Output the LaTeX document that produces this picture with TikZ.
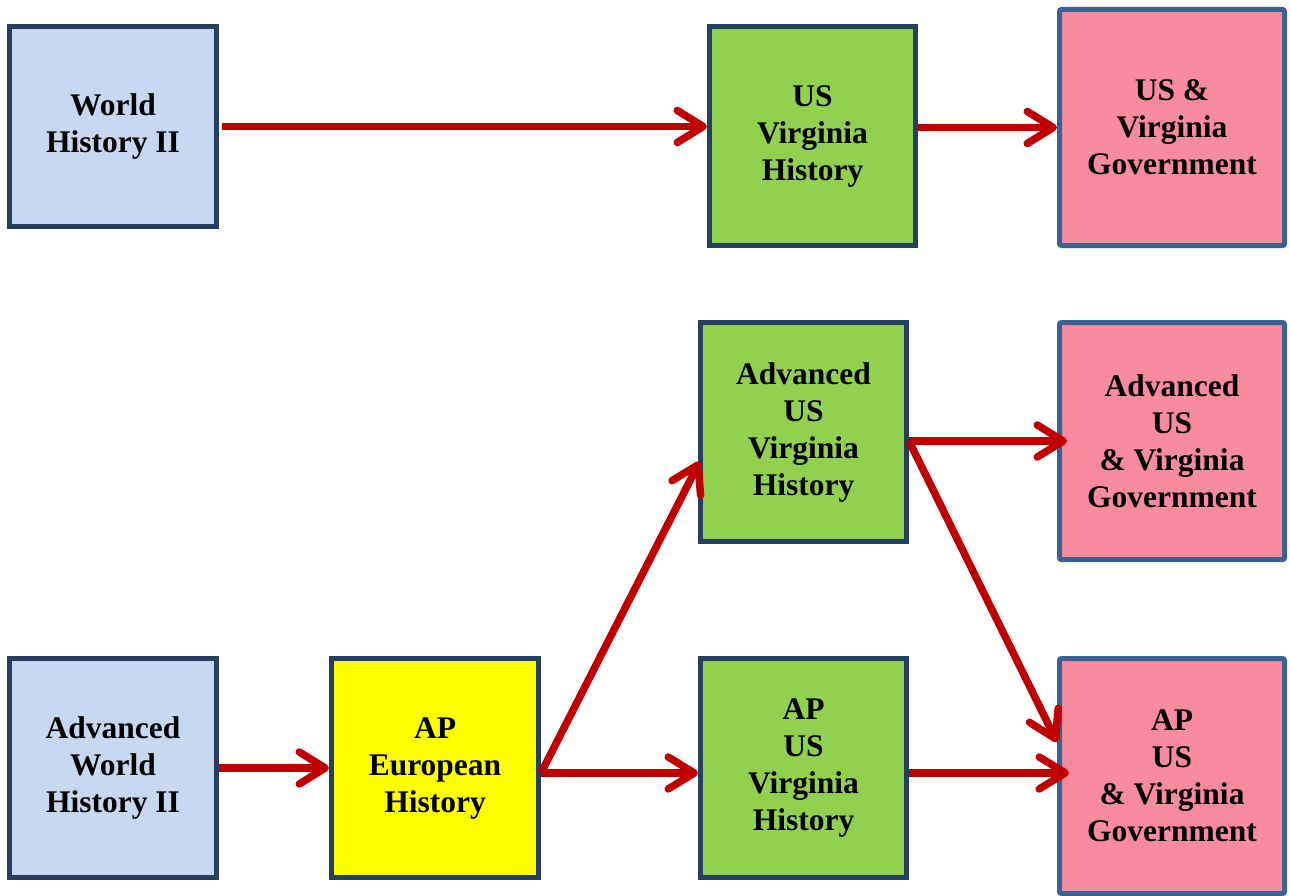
\documentclass[tikz,border=0pt]{standalone}
\usepackage{fontspec}
\setmainfont{Liberation Serif}
\usetikzlibrary{arrows.meta}
\definecolor{boxblue}{HTML}{C6D9F1}
\definecolor{boxgreen}{HTML}{92D050}
\definecolor{boxyellow}{HTML}{FFFF00}
\definecolor{boxpink}{HTML}{F98B9E}
\definecolor{navyline}{HTML}{243F60}
\definecolor{pinkline}{HTML}{3C6190}
\definecolor{arrowred}{HTML}{C00000}
\begin{document}
\begin{tikzpicture}[x=1pt,y=-1pt,->,>={Straight Barb[length=26pt,width=32pt,round]},line width=7.5pt,arrowred,
  course/.style={rectangle,draw=navyline,line width=5pt,align=center,text=black,inner sep=0pt,font=\fontsize{31.5}{37}\selectfont\bfseries,execute at begin node={\rule{0pt}{30pt}}},
  gov/.style={course,draw=pinkline,fill=boxpink,rounded corners=2pt,minimum width=225pt}]

      \useasboundingbox (0,0) rectangle (1290,896);

      % standard track
      \node[course,fill=boxblue,minimum width=207pt,minimum height=200pt] at (113,126.5) (wh) {World\\History II};
      \node[course,fill=boxgreen,minimum width=206pt,minimum height=219pt] at (812.5,136) (usvh) {US\\Virginia\\History};
      \node[gov,minimum height=236pt] at (1172,127.5) (usvg) {US \&\\Virginia\\Government};

      % advanced track
      \node[course,fill=boxblue,minimum width=207pt,minimum height=219pt] at (113,768) (awh) {Advanced\\World\\History II};
      \node[course,fill=boxyellow,minimum width=207pt,minimum height=219pt] at (435,768) (apeh) {AP\\European\\History};
      \node[course,fill=boxgreen,minimum width=206pt,minimum height=219pt] at (803.5,432) (ausvh) {Advanced\\US\\Virginia\\History};
      \node[course,fill=boxgreen,minimum width=206pt,minimum height=219pt] at (803.5,768) (apusvh) {AP\\US\\Virginia\\History};
      \node[gov,minimum height=237pt] at (1172,441) (ausvg) {Advanced\\US\\\& Virginia\\Government};
      \node[gov,minimum height=235pt] at (1172,776) (apusvg) {AP\\US\\\& Virginia\\Government};

      \coordinate (fork) at ([yshift=-5pt]apeh.east);
      \coordinate (split) at (ausvh.east |- ausvg.west);
      \coordinate (apstart) at ([yshift=-5pt]apusvh.east);

      \path
      (wh.east) edge[shorten <=3pt] (wh.east -| usvh.west)
      (usvh.east |- usvg.west) edge (usvg.west)
      (awh) edge (apeh)
      (fork) edge (fork -| apusvh.west)
      (fork) edge[shorten >=-4pt] ([yshift=-33pt]ausvh.west)
      (split) edge[shorten >=-10pt] (ausvg.west)
      (split) edge ([yshift=34pt]apusvg.west)
      (apstart) edge[shorten >=-12pt] (apstart -| apusvg.west)
      ;

    \end{tikzpicture}
\end{document}
